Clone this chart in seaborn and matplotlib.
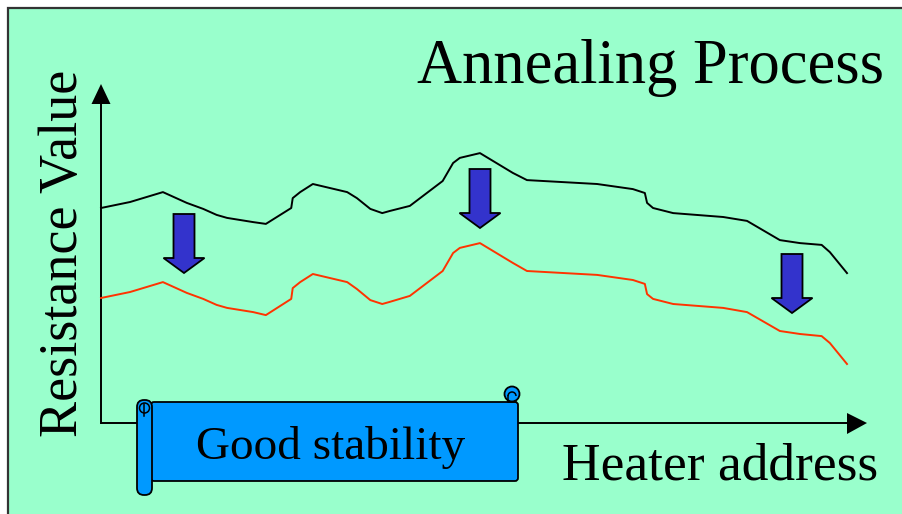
"""
Annealing process sketch: resistance along heater address, before and after anneal.
"""

import matplotlib
matplotlib.use("Agg")
import matplotlib.pyplot as plt
from matplotlib.patches import Rectangle, FancyBboxPatch, Polygon, Circle, Arc
import pandas as pd
import seaborn as sns

# heater address (0..100) and resistance (arbitrary units)
ADDRESS = [0, 3.9, 8.3, 11.5, 13.7, 15.5, 16.9, 20.4, 22.1, 25.5, 25.7, 26.7,
           28.4, 33.0, 34.3, 36.1, 37.7, 38.7, 41.4, 45.8, 47.2, 48.1, 50.8,
           55.2, 57.1, 66.5, 71.3, 72.9, 73.2, 74.0, 76.7, 83.4, 86.6, 91.0,
           93.7, 96.6, 97.7, 100]
BEFORE = [72, 74, 77.3, 73.7, 71.7, 69.7, 68.7, 67.3, 66.7, 72, 75.3, 77.3,
          80, 77.3, 75.3, 71.7, 70.3, 71, 72.7, 81, 87, 88.7, 90.3,
          83.7, 81.3, 80, 78.3, 77, 73.7, 72, 70.3, 69, 67.7, 61.3,
          60.3, 59.7, 57.3, 50.3]
AFTER = [42, 44, 47.3, 43.7, 41.7, 39.7, 38.7, 37.3, 36.3, 41.7, 45.3, 47.3,
         50, 47.3, 45, 41.3, 40, 40.7, 42.7, 51, 57, 58.7, 60.3,
         53.7, 51, 49.7, 48, 46.7, 43.3, 41.7, 40, 38.7, 37.3, 31,
         30, 29.3, 27, 20]
SERIES = ["before anneal", "after anneal"]
LINE_COLORS = ["black", "#FF3300"]

TITLE = "Annealing Process"
Y_LABEL = "Resistance Value"
X_LABEL = "Heater address"
BANNER = "Good stability"

W, H = 903, 514
ORIGIN = (101, 424)          # pixel position of the axes origin
PX_X, PX_Y = 7.46, 3.0       # pixels per data unit
GREEN = "#99FFCC"
BLUE = "#0099FF"
ARROW_BLUE = "#3333CC"
SERIF = ["Liberation Serif", "DejaVu Serif"]

df = pd.DataFrame({
    "address": ADDRESS * 2,
    "resistance": BEFORE + AFTER,
    "state": [SERIES[0]] * len(ADDRESS) + [SERIES[1]] * len(ADDRESS),
})

fig = plt.figure(figsize=(W / 100, H / 100), dpi=100, facecolor="white")

# background layer, pixel coordinates
bg = fig.add_axes([0, 0, 1, 1], zorder=0)
bg.set_xlim(0, W)
bg.set_ylim(H, 0)
bg.axis("off")
bg.add_patch(Rectangle((8, 8), W, H, fc=GREEN, ec="#333333", lw=1.6))
ox, oy = ORIGIN
bg.plot([ox, ox], [oy, 104], color="black", lw=1.4, solid_capstyle="butt")
bg.plot([ox, 847], [oy - 1, oy - 1], color="black", lw=1.4, solid_capstyle="butt")
bg.add_patch(Polygon([(91.5, 104), (110.5, 104), (101, 84)], closed=True, fc="black", ec="none"))
bg.add_patch(Polygon([(847, 413), (847, 434), (867, 423)], closed=True, fc="black", ec="none"))

# data layer
ax = fig.add_axes([0, 0, 1, 1], zorder=1)
ax.patch.set_alpha(0)
sns.lineplot(data=df, x="address", y="resistance", hue="state",
             palette=dict(zip(SERIES, LINE_COLORS)), estimator=None,
             sort=False, legend=False, lw=1.4, ax=ax)
ax.set_xlim(-ox / PX_X, (W - ox) / PX_X)
ax.set_ylim(-(H - oy) / PX_Y, oy / PX_Y)
ax.axis("off")

# decoration layer, pixel coordinates
deco = fig.add_axes([0, 0, 1, 1], zorder=2)
deco.patch.set_alpha(0)
deco.set_xlim(0, W)
deco.set_ylim(H, 0)
deco.axis("off")

# blue down arrows: (centre x, top y, tip y)
for cx, top, tip in [(184, 214, 273), (480, 169, 228), (792, 254, 313)]:
    sw, hw, hl = 10.5, 20.5, 15
    pts = [(cx - sw, top), (cx + sw, top), (cx + sw, tip - hl), (cx + hw, tip - hl),
           (cx, tip), (cx - hw, tip - hl), (cx - sw, tip - hl)]
    deco.add_patch(Polygon(pts, closed=True, fc=ARROW_BLUE, ec="black", lw=1.3, joinstyle="miter"))

# scroll banner
deco.add_patch(Circle((512, 394), 7.5, fc=BLUE, ec="black", lw=1.3))
deco.add_patch(FancyBboxPatch((151, 402), 367, 79, boxstyle="round,pad=0,rounding_size=3",
                              fc=BLUE, ec="black", lw=1.3))
deco.add_patch(Arc((512, 396), 8, 8, theta1=180, theta2=360, color="black", lw=1.1))
deco.plot([508, 508, 516], [396, 402, 402], color="black", lw=1.1)
deco.add_patch(FancyBboxPatch((137, 400), 15, 95, boxstyle="round,pad=0,rounding_size=7",
                              fc=BLUE, ec="black", lw=1.3))
deco.add_patch(Circle((144.5, 408), 5, fc=BLUE, ec="black", lw=1.1))
deco.plot([144.5, 144.5], [404, 416], color="black", lw=1.1)

deco.text(196, 459, BANNER, family=SERIF, fontsize=34, ha="left", va="baseline")
deco.text(884, 83, TITLE, family=SERIF, fontsize=45, ha="right", va="baseline")
deco.text(878, 480, X_LABEL, family=SERIF, fontsize=38.5, ha="right", va="baseline")
deco.text(77, 253, Y_LABEL, family=SERIF, fontsize=39, rotation=90,
          ha="center", va="baseline", rotation_mode="anchor")

fig.savefig("out.png", dpi=100, facecolor="white")
